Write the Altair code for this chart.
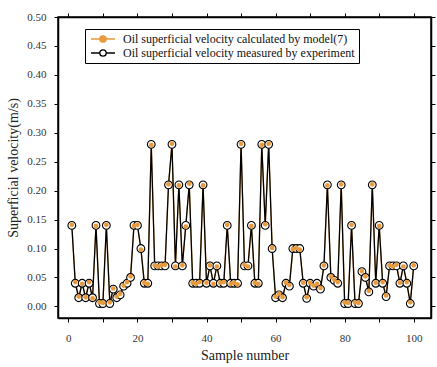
import altair as alt
import pandas as pd

samples = list(range(1, 101))
measured = [0.14, 0.04, 0.015, 0.04, 0.015, 0.04, 0.015, 0.14, 0.005, 0.005,
            0.14, 0.005, 0.03, 0.015, 0.02, 0.035, 0.04, 0.05, 0.14, 0.14,
            0.10, 0.04, 0.04, 0.28, 0.07, 0.07, 0.07, 0.07, 0.21, 0.28,
            0.07, 0.21, 0.07, 0.14, 0.21, 0.04, 0.04, 0.04, 0.21, 0.04,
            0.07, 0.04, 0.07, 0.04, 0.04, 0.14, 0.04, 0.04, 0.04, 0.28,
            0.07, 0.07, 0.14, 0.04, 0.04, 0.28, 0.14, 0.28, 0.10, 0.015,
            0.02, 0.015, 0.04, 0.035, 0.10, 0.10, 0.10, 0.04, 0.014, 0.04,
            0.035, 0.04, 0.03, 0.07, 0.21, 0.05, 0.045, 0.04, 0.21, 0.005,
            0.005, 0.14, 0.005, 0.005, 0.06, 0.05, 0.025, 0.21, 0.04, 0.14,
            0.04, 0.017, 0.07, 0.07, 0.07, 0.04, 0.07, 0.04, 0.005, 0.07]
predicted = [0.141, 0.042, 0.017, 0.039, 0.016, 0.042, 0.014, 0.139, 0.007, 0.006,
             0.141, 0.007, 0.031, 0.017, 0.022, 0.036, 0.042, 0.052, 0.139, 0.141,
             0.098, 0.041, 0.039, 0.279, 0.071, 0.069, 0.071, 0.072, 0.211, 0.281,
             0.069, 0.209, 0.071, 0.138, 0.212, 0.041, 0.039, 0.042, 0.209, 0.041,
             0.071, 0.039, 0.069, 0.041, 0.042, 0.141, 0.039, 0.041, 0.038, 0.281,
             0.072, 0.069, 0.139, 0.041, 0.039, 0.279, 0.142, 0.281, 0.101, 0.017,
             0.022, 0.016, 0.041, 0.037, 0.099, 0.101, 0.098, 0.041, 0.016, 0.041,
             0.036, 0.039, 0.032, 0.071, 0.209, 0.052, 0.046, 0.042, 0.211, 0.007,
             0.006, 0.141, 0.007, 0.006, 0.061, 0.052, 0.027, 0.211, 0.041, 0.139,
             0.042, 0.019, 0.071, 0.069, 0.072, 0.041, 0.069, 0.042, 0.007, 0.071]

series_names = ["Oil superficial velocity calculated by model(7)",
                "Oil superficial velocity measured by experiment"]
x_ticks = list(range(0, 101, 10))
y_ticks = [0.0, 0.05, 0.10, 0.15, 0.20, 0.25, 0.30, 0.35, 0.40, 0.45, 0.50]

rows = []
for s, v in zip(samples, predicted):
    rows.append({"sample": s, "value": v, "series": series_names[0]})
for s, v in zip(samples, measured):
    rows.append({"sample": s, "value": v, "series": series_names[1]})
df = pd.DataFrame(rows)

ORANGE = "#E89A3C"
FONT = "Liberation Serif"

xs = alt.Scale(domain=[-3, 105], nice=False, zero=False)
ys = alt.Scale(domain=[-0.02, 0.5], nice=False, zero=False)

x_axis = alt.Axis(values=x_ticks, title="Sample number", grid=False,
                  labelExpr="datum.value % 20 === 0 ? datum.label : ''",
                  tickSize=4, labelPadding=10, titlePadding=5)
y_axis = alt.Axis(values=y_ticks, format=".2f", title="Superficial velocity(m/s)",
                  grid=False, tickSize=4, labelPadding=8, titlePadding=6)

stroke_scale = alt.Scale(domain=series_names, range=[ORANGE, "black"])
fill_scale = alt.Scale(domain=series_names, range=[ORANGE, "white"])

legend_path = ("M-1,0L1.2,0M2.8,0L5,0"
               "M1.2,0A0.8,0.8 0 1,1 2.8,0A0.8,0.8 0 1,1 1.2,0Z")

base = alt.Chart(df)

pred_line = base.transform_filter(alt.datum.series == series_names[0]).mark_line(
    strokeWidth=1.2).encode(
    x=alt.X("sample:Q", scale=xs, axis=x_axis),
    y=alt.Y("value:Q", scale=ys, axis=y_axis),
    stroke=alt.Stroke("series:N", scale=stroke_scale, legend=alt.Legend(title=None)),
)
meas_line = base.transform_filter(alt.datum.series == series_names[1]).mark_line(
    strokeWidth=1.3).encode(
    x=alt.X("sample:Q", scale=xs, axis=None),
    y=alt.Y("value:Q", scale=ys, axis=None),
    stroke=alt.Stroke("series:N", scale=stroke_scale, legend=alt.Legend(title=None)),
)
meas_pts = base.transform_filter(alt.datum.series == series_names[1]).mark_point(
    filled=False, size=60, strokeWidth=1.1, opacity=1).encode(
    x=alt.X("sample:Q", scale=xs, axis=None),
    y=alt.Y("value:Q", scale=ys, axis=None),
    stroke=alt.Stroke("series:N", scale=stroke_scale, legend=alt.Legend(title=None)),
    fill=alt.Fill("series:N", scale=fill_scale, legend=alt.Legend(title=None)),
)
pred_pts = base.transform_filter(alt.datum.series == series_names[0]).mark_circle(
    size=22, opacity=1, color=ORANGE).encode(
    x=alt.X("sample:Q", scale=xs, axis=None),
    y=alt.Y("value:Q", scale=ys, axis=None),
)

# mirrored top / right axes (ticks only)
frame = base.mark_point(opacity=0, size=1).encode(
    x=alt.X("sample:Q", scale=xs,
            axis=alt.Axis(orient="top", values=x_ticks, labels=False, title=None,
                          grid=False, tickSize=4)),
    y=alt.Y("value:Q", scale=ys,
            axis=alt.Axis(orient="right", values=y_ticks, labels=False, title=None,
                          grid=False, tickSize=4)),
)

chart = alt.layer(pred_line, meas_line, meas_pts, pred_pts, frame).resolve_axis(
    x="independent", y="independent"
).properties(
    width=373, height=301,
    autosize=alt.AutoSizeParams(type="none"),
    padding={"left": 58, "top": 17, "right": 6, "bottom": 49},
    background="white",
).configure_view(
    stroke="black", strokeWidth=1.5
).configure_axis(
    domainColor="black", domainWidth=1.5, tickColor="black", tickWidth=1,
    labelFont=FONT, labelFontSize=11, labelColor="#333",
    titleFont=FONT, titleFontSize=14, titleFontWeight="normal", titleColor="#222",
).configure_legend(
    orient="none", legendX=27, legendY=12,
    symbolType=legend_path, symbolSize=64, symbolStrokeWidth=1.3,
    labelFont=FONT, labelFontSize=12, labelColor="#111", labelOffset=22,
    rowPadding=2, padding=4,
    strokeColor="black", fillColor="white", labelLimit=400,
)

chart.save("out.html", embed_options={"renderer": "svg", "actions": False})
